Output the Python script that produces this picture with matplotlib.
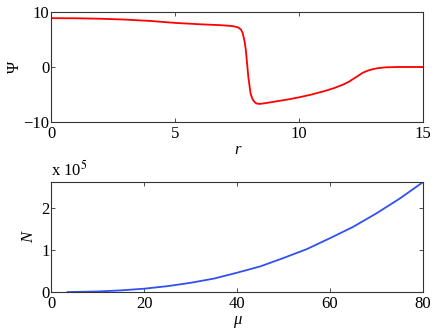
import matplotlib
matplotlib.use("Agg")
import matplotlib.pyplot as plt

# 上图: Psi(r)
r_vals = [0, 1, 2, 3, 4, 5, 6, 6.81, 7.2, 7.4, 7.55, 7.65, 7.72, 7.8, 7.85, 7.95, 8.04,
          8.1, 8.15, 8.22, 8.3, 8.4, 8.55, 8.82, 9.2, 9.6, 10, 10.5, 11.0, 11.4, 11.8,
          12.0, 12.3, 12.57, 12.75, 12.97, 13.2, 13.5, 14, 15]
psi_vals = [8.86, 8.84, 8.75, 8.6, 8.35, 8.0, 7.75, 7.59, 7.47, 7.35, 7.15, 6.8, 6.2,
            4.6, 3.05, -1.8, -4.8, -5.6, -6.05, -6.45, -6.65, -6.7, -6.62, -6.43, -6.15,
            -5.85, -5.5, -5.0, -4.4, -3.85, -3.15, -2.7, -1.85, -1.05, -0.7, -0.4,
            -0.2, -0.06, 0.0, 0.0]

# 下图: N(mu)
mu_vals = [3.5, 5, 10, 15, 20, 25, 30, 35, 40, 45, 50, 55, 60, 65, 70, 75, 80]
N_vals = [0, 200, 1400, 4000, 8000, 14000, 22000, 32000, 46000, 61000, 81000,
          102000, 128000, 155000, 187000, 222000, 261000]

plt.rcParams['font.family'] = ['Liberation Serif', 'DejaVu Serif']
plt.rcParams['mathtext.fontset'] = 'stix'

fig = plt.figure(figsize=(4.36, 3.3), dpi=100)
ax1 = fig.add_axes([0.118, 0.630, 0.852, 0.334])
ax2 = fig.add_axes([0.118, 0.115, 0.852, 0.333])

for ax in (ax1, ax2):
    ax.tick_params(direction='in', top=True, right=True, labelsize=12,
                   length=3, width=0.6, color='#333333')
    ax.tick_params(axis='y', pad=1.5)
    ax.tick_params(axis='x', pad=3)
    for s in ax.spines.values():
        s.set_color('#333333')
        s.set_linewidth(0.8)

ax1.plot(r_vals, psi_vals, color='#ff0000', lw=1.3)
ax1.set_xlim(0, 15)
ax1.set_ylim(-10, 10)
ax1.set_xticks([0, 5, 10, 15])
ax1.set_yticks([-10, 0, 10])
ax1.set_yticklabels(['\u221210', '0', '10'])
ax1.set_ylabel('\u03a8', fontsize=12, labelpad=0)
ax1.set_xlabel('r', fontsize=12, style='italic', labelpad=0)

ax2.plot(mu_vals, [n / 1e5 for n in N_vals], color='#3050f5', lw=1.3)
ax2.set_xlim(0, 80)
ax2.set_ylim(0, 2.61)
ax2.set_xticks([0, 20, 40, 60, 80])
ax2.set_yticks([0, 1, 2])
ax2.set_ylabel('N', fontsize=12, style='italic', labelpad=3)
ax2.set_xlabel('\u03bc', fontsize=12, style='italic', labelpad=0)
ax2.text(0.0, 1.02, 'x 10$^5$', transform=ax2.transAxes, fontsize=12,
         ha='left', va='bottom')

fig.savefig('out.png', dpi=100)
